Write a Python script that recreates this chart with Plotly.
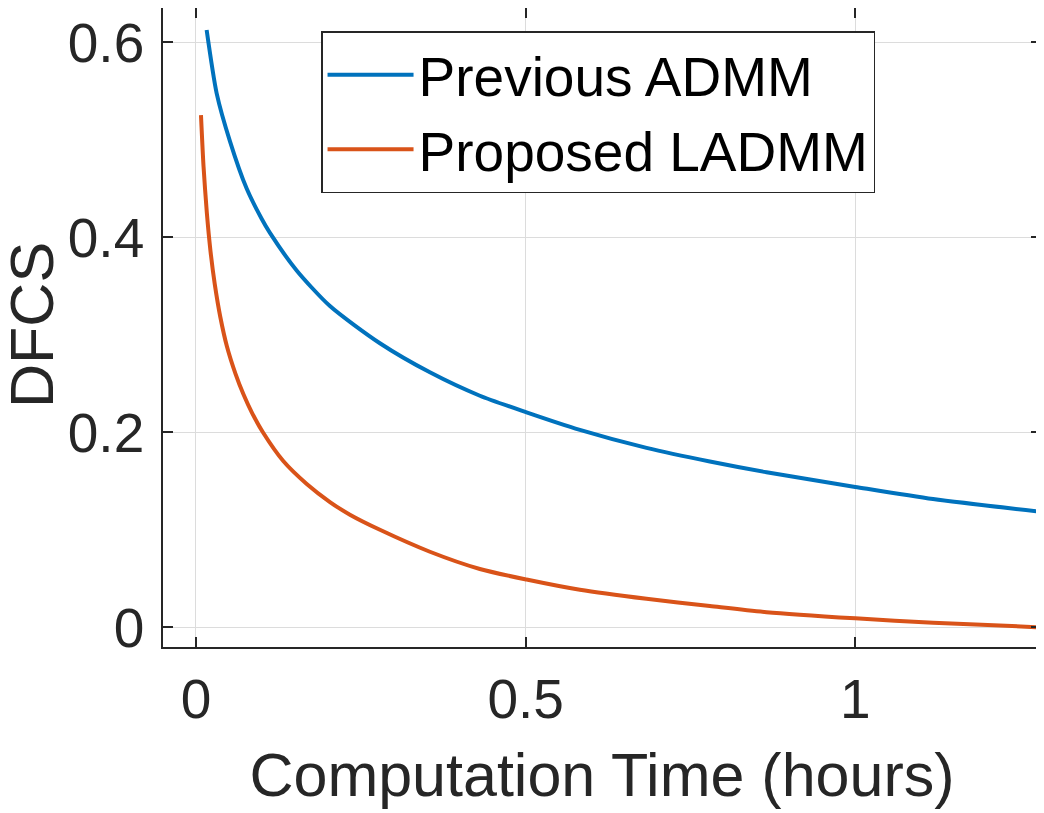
import plotly.graph_objects as go

# Data
admm_t = [0.0162, 0.0314, 0.0516, 0.0769, 0.0996, 0.1122, 0.1527, 0.2032, 0.279,
          0.3548, 0.4306, 0.5014, 0.5823, 0.6834, 0.7794, 0.8654, 1.0, 1.118, 1.28]
admm_v = [0.6126, 0.5477, 0.4985, 0.450, 0.419, 0.4045, 0.366, 0.3295, 0.2913,
          0.2615, 0.2375, 0.2205, 0.2025, 0.1840, 0.1700, 0.1590, 0.1440, 0.1315, 0.1186]

ladmm_t = [0.0076, 0.0115, 0.0165, 0.022, 0.0285, 0.037, 0.047, 0.060, 0.072, 0.085,
           0.102, 0.1324, 0.168, 0.2032, 0.2335, 0.279, 0.3548, 0.4306, 0.5014,
           0.5823, 0.6834, 0.7794, 0.8654, 1.0, 1.118, 1.28]
ladmm_v = [0.5254, 0.4724, 0.425, 0.386, 0.352, 0.318, 0.288, 0.260, 0.239, 0.220,
           0.1995, 0.1705, 0.147, 0.1285, 0.1155, 0.100, 0.0775, 0.0598, 0.0490,
           0.0385, 0.0292, 0.0218, 0.0155, 0.0092, 0.0047, 0.0]

series_names = ["Previous ADMM", "Proposed LADMM"]
series_colors = ["#0072BD", "#D95319"]

x_ticks = [0, 0.5, 1]
x_tick_text = ["0", "0.5", "1"]
y_ticks = [0, 0.2, 0.4, 0.6]
y_tick_text = ["0", "0.2", "0.4", "0.6"]

x_title = "Computation Time (hours)"
y_title = "DFCS"

FONT = "Liberation Sans, Arial, Helvetica, sans-serif"
AX = "#262626"

fig = go.Figure()
for t, v, name, col in [(admm_t, admm_v, series_names[0], series_colors[0]),
                        (ladmm_t, ladmm_v, series_names[1], series_colors[1])]:
    fig.add_trace(go.Scatter(x=t, y=v, mode="lines", name=name,
                             line=dict(color=col, width=4, shape="spline", smoothing=0.7)))

axis_common = dict(
    showline=True, linecolor=AX, linewidth=1.5, mirror="ticks",
    ticks="inside", ticklen=10, tickwidth=1.5, tickcolor=AX,
    showgrid=True, gridcolor="#dcdcdc", gridwidth=1.2,
    zeroline=False, automargin=False,
    tickfont=dict(family=FONT, size=55, color=AX),
)

fig.update_xaxes(range=[-0.05, 1.2817], tickvals=x_ticks, ticktext=x_tick_text,
                 title=dict(text=x_title,
                            font=dict(family=FONT, size=61, color=AX), standoff=25),
                 ticklabelstandoff=3, **axis_common)
fig.update_yaxes(range=[-0.0202, 0.6352], tickvals=y_ticks, ticktext=y_tick_text,
                 ticklabelstandoff=6, **axis_common)

fig.add_annotation(text=y_title, xref="paper", yref="paper", x=-0.1492, y=0.504,
                   xanchor="center", yanchor="middle", textangle=-90, showarrow=False,
                   font=dict(family=FONT, size=61, color=AX))

fig.update_layout(
    width=1036, height=805,
    margin=dict(l=155, r=3, t=0, b=166),
    paper_bgcolor="white", plot_bgcolor="white",
    showlegend=True,
    legend=dict(x=0.18, y=0.964, xanchor="left", yanchor="top",
                bgcolor="white", bordercolor=AX, borderwidth=1.5,
                font=dict(family=FONT, size=55, color="black"),
                itemwidth=86, tracegroupgap=0),
)

fig.write_html("out.html")
